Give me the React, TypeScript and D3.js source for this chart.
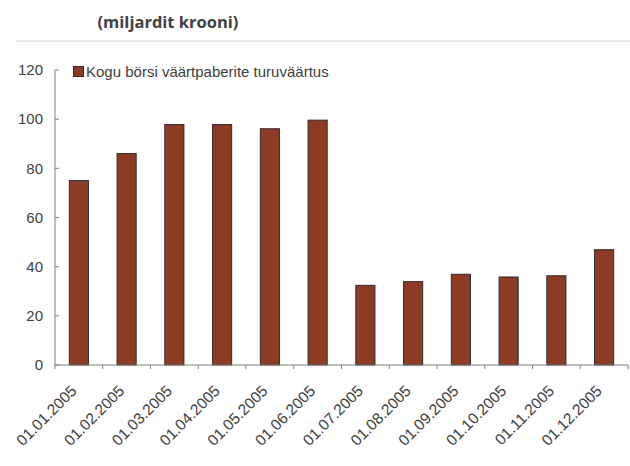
import React from "react";
import * as d3 from "d3";

const categories = [
  "01.01.2005", "01.02.2005", "01.03.2005", "01.04.2005", "01.05.2005", "01.06.2005",
  "01.07.2005", "01.08.2005", "01.09.2005", "01.10.2005", "01.11.2005", "01.12.2005",
];
const values = [75, 86, 97.8, 97.8, 96.1, 99.6, 32.4, 33.9, 36.9, 35.8, 36.3, 46.9];
const yTicks = [0, 20, 40, 60, 80, 100, 120];
const seriesName = "Kogu börsi väärtpaberite turuväärtus";
const title = "(miljardit krooni)";

const W = 630, H = 466;
const left = 55, right = 628, top = 70, bottom = 365;

export default function App() {
  const x = d3.scaleBand<string>().domain(categories).range([left, right]).paddingInner(0).paddingOuter(0);
  const y = d3.scaleLinear().domain([0, 120]).range([bottom, top]);
  const bw = x.bandwidth() * 0.4;
  const txt = "#404040";
  const font = "'Liberation Sans', Arial, sans-serif";
  return (
    <svg width={W} height={H} style={{ position: "absolute", left: 0, top: 0 }}>
      <rect width={W} height={H} fill="#fff" />
      <text x={168} y={28} textAnchor="middle" fontFamily="'Open Sans', sans-serif" fontWeight="bold" fontSize={16.5} fill={txt}>{title}</text>
      <line x1={16} x2={630} y1={41} y2={41} stroke="#d0d0d0" strokeWidth={1} />
      {values.map((v, i) => {
        const cx = x(categories[i])! + x.bandwidth() / 2;
        return (
          <rect key={i} x={cx - bw / 2} y={y(v)} width={bw} height={bottom - y(v)}
            fill="#8E3B23" stroke="#2b2b2b" strokeWidth={1} />
        );
      })}
      <line x1={left} x2={left} y1={top} y2={bottom} stroke="#808080" />
      <line x1={left} x2={right} y1={bottom} y2={bottom} stroke="#808080" />
      {yTicks.map(t => (
        <g key={t}>
          <line x1={left} x2={left + 4} y1={y(t)} y2={y(t)} stroke="#808080" />
          <text x={43} y={y(t)} dy="0.35em" textAnchor="end" fontFamily={font} fontSize={15} fill={txt}>{t}</text>
        </g>
      ))}
      {categories.map((c, i) => (
        <line key={"t" + i} x1={x(c)!} x2={x(c)!} y1={bottom} y2={bottom + 4} stroke="#808080" />
      ))}
      <line x1={right} x2={right} y1={bottom} y2={bottom + 4} stroke="#808080" />
      {categories.map((c, i) => {
        const cx = x(c)! + x.bandwidth() / 2;
        return (
          <text key={"l" + i} transform={`translate(${cx - 5},${bottom + 23}) rotate(-45)`} textAnchor="end"
            dy="0.35em" fontFamily={font} fontSize={15.5} fill={txt}>{c}</text>
        );
      })}
      <rect x={73.5} y={66.5} width={10} height={10} fill="#8E3B23" stroke="#2b2b2b" />
      <text x={86} y={72} dy="0.35em" fontFamily={font} fontSize={15} fill={txt}>{seriesName}</text>
    </svg>
  );
}
